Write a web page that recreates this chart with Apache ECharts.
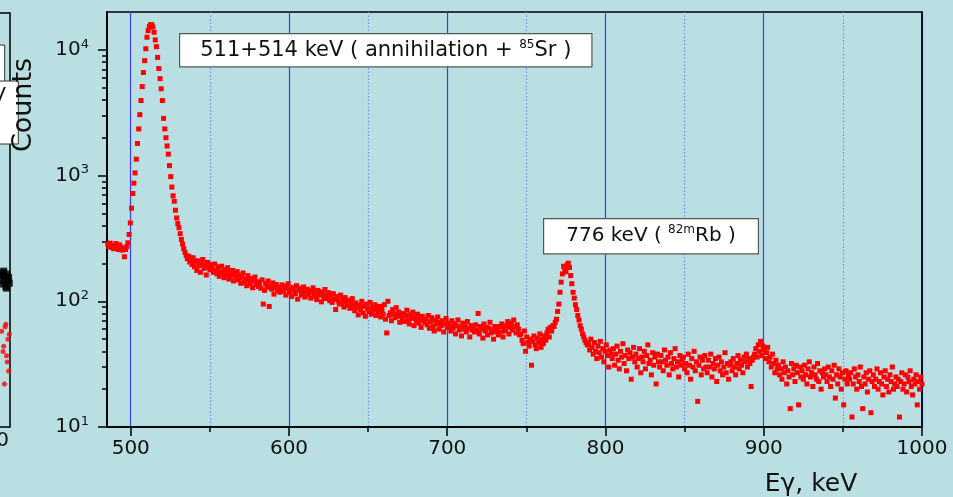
<!DOCTYPE html>
<html>
<head>
<meta charset="utf-8">
<script src="https://cdn.jsdelivr.net/npm/echarts@6/dist/echarts.min.js"></script>
<style>
html,body{margin:0;padding:0;background:#b9dfe2;}
#chart{width:953px;height:497px;}
</style>
</head>
<body>
<div id="chart"></div>
<script>
// Channel calibration (keV): first channel energy and channel width
const channelStart = 485.5;
const channelWidth = 0.75;

// Counts per channel
const counts = [
285,272,290,268,279,262,275,288,266,258,281,270,255,263,226,258,272,
292,340,420,550,720,870,1050,1350,1800,2350,3050,3950,5100,6600,8200,10200,12600,14200,15300,15800,15900,15200,13800,12000,10600,8700,7100,5900,4900,3950,2850,2350,2000,1720,1480,1200,980,810,690,625,530,460,415,385,345,310,285,262,245,232,218,
228,205,214,196,222,188,205,176,210,192,170,201,215,183,195,162,204,186,178,196,
181,170,198,176,165,188,158,172,190,167,154,179,163,185,150,171,160,176,145,166,
158,172,148,162,139,155,168,142,150,133,160,147,138,152,128,145,156,136,143,131,
140,127,148,95,122,138,129,145,91,132,125,140,114,128,136,121,130,118,126,135,
120,131,112,126,138,117,124,109,129,121,115,133,104,122,127,112,119,130,108,118,
125,113,121,106,118,128,110,116,103,122,112,119,99,114,108,124,105,111,117,101,
110,98,115,104,86,109,101,95,112,97,104,90,107,99,93,102,88,96,105,91,
84,97,89,78,93,86,100,81,91,76,95,87,83,98,79,90,85,94,77,88,
82,91,75,86,79,94,72,56,100,77,81,70,86,79,74,89,76,82,68,79,
74,80,69,77,85,71,66,78,73,82,64,75,70,79,67,73,62,76,71,68,
72,65,77,61,69,74,63,58,71,66,75,60,68,64,70,57,66,73,62,67,
63,58,70,61,66,55,64,71,59,62,53,67,60,65,57,69,61,52,64,59,
62,57,65,59,80,55,63,60,51,66,58,62,54,61,68,56,59,50,63,57,
60,54,63,57,66,52,61,58,64,69,55,62,67,59,71,63,56,65,60,54,
55,49,46,58,40,52,47,44,50,31,48,53,45,42,51,47,55,43,50,46,
53,49,56,60,52,62,
58,64,63,68,72,83,95,118,142,165,190,180,172,195,201,186,160,138,118,106,94,86,77,71,64,60,55,52,49,47,45,
46,41,50,43,38,47,40,35,44,39,48,36,42,33,40,45,37,30,41,38,
35,42,31,38,44,34,29,40,36,46,32,37,28,41,35,39,24,36,43,33,
38,30,35,42,27,36,33,40,29,37,45,32,34,26,39,31,36,22,38,33,
30,37,33,28,41,34,31,36,26,39,32,29,35,42,30,33,25,37,31,34,
36,29,32,27,38,31,24,35,30,40,28,33,16,31,36,26,34,29,37,30,
27,34,30,38,25,32,29,35,23,31,36,28,33,26,30,39,27,32,24,31,
33,28,35,30,26,32,37,29,34,31,27,36,33,38,30,35,32,21,34,36,
38,42,36,45,40,48,37,44,41,35,39,43,33,36,30,38,32,27,34,29,
31,26,29,24,33,27,30,22,28,25,14,32,26,29,23,31,27,15,30,25,
28,24,31,26,22,29,33,25,27,21,30,26,24,32,23,28,20,27,25,29,
26,23,30,25,21,28,24,31,17,26,22,29,25,20,27,15,24,28,22,26,
24,27,12,22,29,25,20,26,23,30,21,14,25,22,27,19,24,28,13,23,
26,21,24,29,20,23,27,22,18,25,28,21,24,19,26,23,30,20,22,25,
21,24,12,23,27,20,22,26,19,25,23,28,21,18,24,22,26,15,23,20,25,22
];

// Axis ticks
const xMajorTicks = [500, 600, 700, 800, 900, 1000];
const xMinorTicks = [550, 650, 750, 850, 950];
const yMajorTicks = [10, 100, 1000, 10000];
const yMinorTicks = [20,30,40,50,60,70,80,90,200,300,400,500,600,700,800,900,2000,3000,4000,5000,6000,7000,8000,9000];

// Fragment of the neighbouring panel (left edge)
const fragBlackE = [986, 988, 990, 991, 993, 994, 995, 997, 998, 999, 1000, 996, 992];
const fragBlackC = [150, 162, 138, 170, 145, 158, 131, 166, 147, 156, 140, 128, 175];
const fragRedE = [989, 992, 994, 996, 998, 999, 1000, 993, 997, 995, 991];
const fragRedC = [58, 44, 63, 37, 50, 28, 55, 22, 33, 66, 40];

const spectrum = counts.map((c, i) => [channelStart + channelWidth * i, c]);
const fragBlack = fragBlackE.map((e, i) => [e, fragBlackC[i]]);
const fragRed = fragRedE.map((e, i) => [e, fragRedC[i]]);

const FONT = 'DejaVu Sans';
const chart = echarts.init(document.getElementById('chart'), null, {renderer: 'canvas'});

const supLabel = v => {
  const e = Math.round(Math.log10(v));
  return '{b|10}{s|' + e + '}';
};

chart.setOption({
  backgroundColor: '#b9dfe2',
  animation: false,
  grid: [
    {left: 107, top: 12, width: 815, height: 415, show: true, borderColor: '#000', borderWidth: 1.5, backgroundColor: 'transparent', containLabel: false, outerBoundsMode: 'none'},
    {left: -200, top: 13, width: 210, height: 414, show: true, borderColor: '#000', borderWidth: 1.5, backgroundColor: 'transparent', containLabel: false, outerBoundsMode: 'none'}
  ],
  xAxis: [
    {
      type: 'value', gridIndex: 0, min: 485, max: 1000, position: 'bottom',
      axisLine: {show: true, onZero: false, lineStyle: {color: '#000', width: 1.5}},
      axisTick: {show: true, inside: false, length: 9, customValues: xMajorTicks, lineStyle: {color: '#000', width: 1.5}},
      axisLabel: {show: true, customValues: xMajorTicks, margin: 12, color: '#111', fontFamily: FONT, fontSize: 20, formatter: v => String(v)},
      splitLine: {show: true, lineStyle: {color: '#3c3cf2', width: 1.2, type: 'solid'}},
      minorTick: {show: false}, minorSplitLine: {show: false}
    },
    {
      type: 'value', gridIndex: 0, min: 485, max: 1000, position: 'bottom',
      axisLine: {show: true, onZero: false, lineStyle: {color: '#000', width: 1.5}},
      axisTick: {show: true, inside: false, length: 5, customValues: xMinorTicks, lineStyle: {color: '#000', width: 1.5}},
      axisLabel: {show: false, customValues: xMinorTicks},
      splitLine: {show: true, lineStyle: {color: '#7a90f0', width: 1.2, type: [1.5, 2]}}
    },
    {type: 'value', gridIndex: 1, min: 700, max: 1001, show: false}
  ],
  yAxis: [
    {
      type: 'log', logBase: 10, gridIndex: 0, min: 10, max: 20000, position: 'left',
      axisLine: {show: true, onZero: false, lineStyle: {color: '#000', width: 1.5}},
      axisTick: {show: true, inside: false, length: 9, customValues: yMajorTicks, lineStyle: {color: '#000', width: 1.5}},
      axisLabel: {
        show: true, customValues: yMajorTicks, margin: 18, color: '#111',
        formatter: supLabel,
        rich: {
          b: {fontFamily: FONT, fontSize: 20, lineHeight: 24, color: '#111'},
          s: {fontFamily: FONT, fontSize: 13, lineHeight: 14, verticalAlign: 'top', color: '#111'}
        }
      },
      splitLine: {show: false}
    },
    {
      type: 'log', logBase: 10, gridIndex: 0, min: 10, max: 20000, position: 'left',
      axisLine: {show: true, onZero: false, lineStyle: {color: '#000', width: 1.5}},
      axisTick: {show: true, inside: false, length: 5, customValues: yMinorTicks, lineStyle: {color: '#000', width: 1.5}},
      axisLabel: {show: false, customValues: yMinorTicks},
      splitLine: {show: false}
    },
    {type: 'log', logBase: 10, gridIndex: 1, min: 10, max: 20000, show: false},
    {
      type: 'log', logBase: 10, gridIndex: 0, min: 10, max: 20000, position: 'right',
      axisLine: {show: true, onZero: false, lineStyle: {color: '#000', width: 1.5}},
      axisTick: {show: false}, axisLabel: {show: false}, splitLine: {show: false}
    }
  ],
  series: [
    {
      type: 'scatter', xAxisIndex: 0, yAxisIndex: 0, data: spectrum,
      symbol: 'rect', symbolSize: 5, itemStyle: {color: '#ff0000', opacity: 1},
      z: 5
    },
    {
      type: 'scatter', xAxisIndex: 2, yAxisIndex: 2, data: fragBlack,
      symbol: 'rect', symbolSize: 7, itemStyle: {color: '#000'}
    },
    {
      type: 'scatter', xAxisIndex: 2, yAxisIndex: 2, data: fragRed,
      symbol: 'circle', symbolSize: 5, itemStyle: {color: '#ff0000'}
    }
  ],
  graphic: [
    {
      type: 'text', left: 179, top: 33, z: 20,
      style: {
        text: '{n|511+514 keV ( annihilation + }{sup|85}{n|Sr )}',
        rich: {
          n: {fontFamily: FONT, fontSize: 21, lineHeight: 23, fill: '#111'},
          sup: {fontFamily: FONT, fontSize: 12, lineHeight: 12, verticalAlign: 'top', fill: '#111'}
        },
        backgroundColor: '#ffffff', borderColor: '#555', borderWidth: 1.2,
        padding: [5, 20, 4, 20]
      }
    },
    {
      type: 'text', left: 543, top: 218, z: 20,
      style: {
        text: '{n|776 keV ( }{sup|82m}{n|Rb )}',
        rich: {
          n: {fontFamily: FONT, fontSize: 20, lineHeight: 24, fill: '#111'},
          sup: {fontFamily: FONT, fontSize: 12, lineHeight: 12, verticalAlign: 'top', fill: '#111'}
        },
        backgroundColor: '#ffffff', borderColor: '#555', borderWidth: 1.2,
        padding: [5, 22, 5, 22]
      }
    },
    {
      type: 'text', x: 811, y: 484, z: 20,
      style: {text: 'E\u03b3, keV', fontFamily: FONT, fontSize: 25, fill: '#111', align: 'center', verticalAlign: 'middle'}
    },
    {
      type: 'text', x: 24, y: 105, rotation: Math.PI / 2, z: 20,
      style: {text: 'Counts', fontFamily: FONT, fontSize: 27, fill: '#111', align: 'center', verticalAlign: 'middle'}
    },
    {
      type: 'rect', shape: {x: -20, y: 45, width: 24.7, height: 40}, z: 18,
      style: {fill: '#ffffff', stroke: '#333', lineWidth: 1}
    },
    {
      type: 'rect', shape: {x: -20, y: 81, width: 38.3, height: 63}, z: 19,
      style: {fill: '#ffffff', stroke: '#333', lineWidth: 1}
    },
    {
      type: 'text', x: 6, y: 96, z: 20,
      style: {text: 'keV', fontFamily: FONT, fontSize: 20, fill: '#111', align: 'right', verticalAlign: 'middle'}
    },
    {
      type: 'text', x: 9, y: 441, z: 20,
      style: {text: '1000', fontFamily: FONT, fontSize: 20, fill: '#111', align: 'right', verticalAlign: 'middle'}
    }
  ]
});
</script>
</body>
</html>
